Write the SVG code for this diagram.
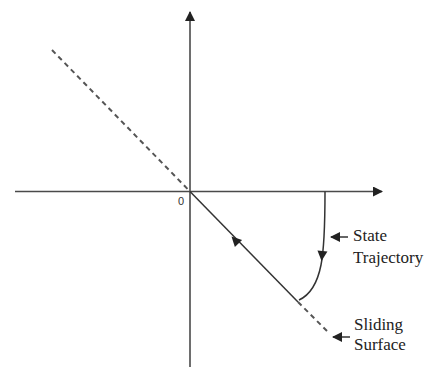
<svg xmlns="http://www.w3.org/2000/svg" width="427" height="367" viewBox="0 0 427 367">
<style>
.ax{stroke:#4a4a4a;stroke-width:1.6;fill:none}
.ln{stroke:#333;stroke-width:1.5;fill:none}
.ds{stroke:#555;stroke-width:2;fill:none;stroke-dasharray:5,4}
.lbl{font-family:"Liberation Serif",serif;font-size:17px;fill:#222}
</style>
<defs>
<marker id="ah" markerWidth="10" markerHeight="10" refX="9" refY="5" orient="auto" markerUnits="userSpaceOnUse">
<path d="M0,0 L10,5 L0,10 z" fill="#222"/>
</marker>
</defs>
<rect width="427" height="367" fill="#fff"/>
<g id="connectors">
<line class="ax" x1="15" y1="191.5" x2="382" y2="191.5" marker-end="url(#ah)"/>
<line class="ax" x1="190" y1="367" x2="190" y2="12" marker-end="url(#ah)"/>
<line class="ds" x1="52" y1="50" x2="190" y2="191.5"/>
<line class="ln" x1="190" y1="191.5" x2="298" y2="302"/>
<line class="ds" x1="298" y1="302" x2="329" y2="333"/>
<path d="M0,0 L10,5 L0,10 z" fill="#222" transform="translate(235,240) rotate(-134) translate(-5,-5)"/>
<path class="ln" d="M325,191.5 C325,230 324,250 321,265 C317,285 310,295 299,300"/>
<path d="M0,0 L10,5 L0,10 z" fill="#222" transform="translate(322,256) rotate(95) translate(-5,-5)"/>
<line class="ln" x1="348" y1="237" x2="331" y2="237" marker-end="url(#ah)"/>
<line class="ln" x1="350" y1="337" x2="333" y2="337" marker-end="url(#ah)"/>
</g>
<g id="origin"><text x="178" y="205" font-family="Liberation Sans,sans-serif" font-size="11" fill="#333">0</text></g>
<g id="state-label"><text class="lbl" x="353" y="241">State</text><text class="lbl" x="353" y="263">Trajectory</text></g>
<g id="surface-label"><text class="lbl" x="354" y="330">Sliding</text><text class="lbl" x="354" y="350">Surface</text></g>
</svg>
